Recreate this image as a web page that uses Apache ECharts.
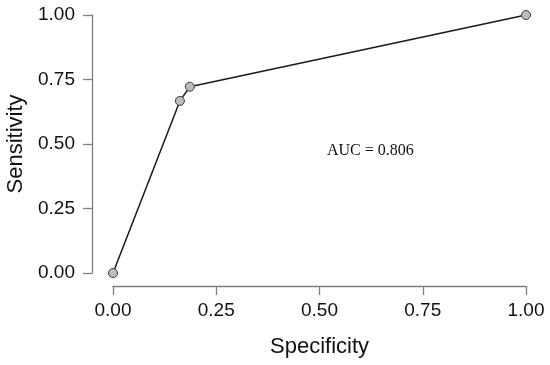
<!DOCTYPE html>
<html><head><meta charset="utf-8">
<script src="https://cdn.jsdelivr.net/npm/echarts@6/dist/echarts.min.js"></script>
<style>html,body{margin:0;padding:0;background:#fff}#c{width:550px;height:365px}</style>
</head><body><div id="c"></div>
<script>
const specificity = [0.0, 0.162, 0.186, 1.0];
const sensitivity = [0.0, 0.667, 0.722, 1.0];
const tickValues = [0, 0.25, 0.5, 0.75, 1];
const aucText = 'AUC = 0.806';

const chart = echarts.init(document.getElementById('c'), null, {renderer: 'canvas'});
const axisCommon = {
  type: 'value', min: 0, max: 1, interval: 0.25,
  splitLine: {show: false},
  axisLine: {show: true, onZero: false, lineStyle: {color: '#7f7f7f', width: 1.3}},
  axisTick: {show: true, inside: false, length: 9, lineStyle: {color: '#7f7f7f', width: 1.3}},
  axisLabel: {color: '#111', fontSize: 19, fontFamily: 'Liberation Sans, Arial, sans-serif',
    formatter: v => v.toFixed(2)},
  nameLocation: 'middle',
  nameTextStyle: {color: '#111', fontSize: 22, fontFamily: 'Liberation Sans, Arial, sans-serif'}
};
chart.setOption({
  animation: false,
  grid: {left: 113, right: 24, top: 15, bottom: 92, outerBoundsMode: 'none', containLabel: false},
  xAxis: Object.assign({}, axisCommon, {name: 'Specificity', offset: 13, nameGap: 50,
    axisLabel: Object.assign({}, axisCommon.axisLabel, {margin: 15})}),
  yAxis: Object.assign({}, axisCommon, {name: 'Sensitivity', offset: 21, nameGap: 63,
    axisLabel: Object.assign({}, axisCommon.axisLabel, {margin: 17})}),
  series: [{
    type: 'line',
    data: specificity.map((x, i) => [x, sensitivity[i]]),
    symbol: 'circle', symbolSize: 9,
    lineStyle: {color: '#1a1a1a', width: 1.5},
    itemStyle: {color: '#bdbdbd', borderColor: '#3a3a3a', borderWidth: 1},
    clip: false
  }],
  graphic: [{
    type: 'text', left: 327, top: 143,
    style: {text: aucText, fill: '#111', fontSize: 16, fontFamily: 'Liberation Serif, Times New Roman, serif'}
  }]
});
</script></body></html>
